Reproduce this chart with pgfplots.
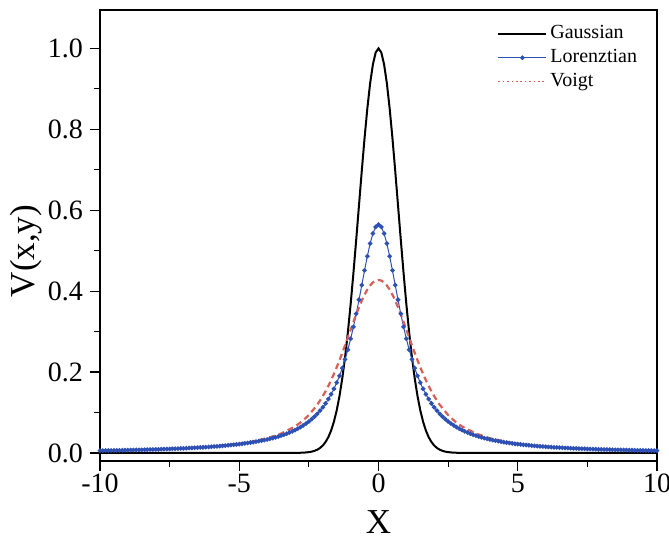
\documentclass[border=0pt]{standalone}
\usepackage{fontspec}
\setmainfont{Liberation Serif}
\usepackage{pgfplots}
\pgfplotsset{compat=1.18}
\definecolor{lblue}{RGB}{45,80,180}
\definecolor{vred}{RGB}{215,95,85}
\begin{document}
\begin{tikzpicture}
\useasboundingbox (-50pt,-42.5pt) rectangle (284.5pt,230.5pt);
\begin{axis}[
  scale only axis, width=278.5pt, height=225.5pt,
  xmin=-10, xmax=10, ymin=-0.02, ymax=1.095,
  xtick={-10,-5,0,5,10}, minor xtick={-7.5,-2.5,2.5,7.5},
  ytick={0,0.2,0.4,0.6,0.8,1.0}, minor ytick={0.1,0.3,0.5,0.7,0.9},
  tick align=outside, tick pos=left,
  major tick length=5pt, minor tick length=3pt,
  axis line style={line width=0.6pt},
  every tick/.style={line width=0.6pt, black},
  /pgf/number format/assume math mode=true,
  tick label style={font=\fontsize{14}{17}\selectfont},
  xticklabel style={yshift=2pt},
  yticklabel style={/pgf/number format/.cd, fixed, fixed zerofill, precision=1},
  xlabel={X}, ylabel={V(x,y)},
  label style={font=\fontsize{17.5}{20}\selectfont},
  xlabel style={at={(axis description cs:0.5,-0.1353)}, anchor=center},
  ylabel style={at={(axis description cs:-0.1329,0.4656)}, anchor=center},
  legend style={draw=none, fill=none, font=\fontsize{10}{12}\selectfont,
    at={(axis description cs:0.7127,0.975)}, anchor=north west,
    row sep=0pt, inner sep=0pt, cells={anchor=west},
    nodes={text height=7pt, text depth=2pt, inner sep=1.5pt}},
  legend image code/.code={\draw[mark repeat=2,mark phase=2,#1] plot coordinates {(0pt,0pt) (12pt,0pt) (24pt,0pt)};},
]
% Gaussian
\addplot[black, line width=1pt, mark=none] coordinates {
(-10,0) (-3.0,0.00012) (-2.9,0.00022) (-2.8,0.00039) (-2.7,0.00068) (-2.6,0.00116) (-2.5,0.00193) (-2.4,0.00315) (-2.3,0.00504) (-2.2,0.00791) (-2.1,0.01216)
(-2.0,0.01832) (-1.9,0.02705) (-1.8,0.03916) (-1.7,0.05558) (-1.6,0.07730) (-1.5,0.10540) (-1.4,0.14086) (-1.3,0.18452) (-1.2,0.23693) (-1.1,0.29820)
(-1.0,0.36788) (-0.9,0.44486) (-0.8,0.52729) (-0.7,0.61263) (-0.6,0.69768) (-0.5,0.77880) (-0.4,0.85214) (-0.3,0.91393) (-0.2,0.96079) (-0.1,0.99005)
(0,1.0)
(0.1,0.99005) (0.2,0.96079) (0.3,0.91393) (0.4,0.85214) (0.5,0.77880) (0.6,0.69768) (0.7,0.61263) (0.8,0.52729) (0.9,0.44486) (1.0,0.36788)
(1.1,0.29820) (1.2,0.23693) (1.3,0.18452) (1.4,0.14086) (1.5,0.10540) (1.6,0.07730) (1.7,0.05558) (1.8,0.03916) (1.9,0.02705) (2.0,0.01832)
(2.1,0.01216) (2.2,0.00791) (2.3,0.00504) (2.4,0.00315) (2.5,0.00193) (2.6,0.00116) (2.7,0.00068) (2.8,0.00039) (2.9,0.00022) (3.0,0.00012) (10,0)
};
\addlegendentry{Gaussian}
% Lorentzian
\addplot[lblue, line width=0.5pt, mark=*, mark size=0.9pt, mark options={solid, fill=lblue, draw=lblue}] coordinates {
(-10.0,0.00559) (-9.9,0.00570) (-9.8,0.00581) (-9.7,0.00593) (-9.6,0.00606) (-9.5,0.00618) (-9.4,0.00631) (-9.3,0.00645) (-9.2,0.00659) (-9.1,0.00673)
(-9.0,0.00688) (-8.9,0.00703) (-8.8,0.00719) (-8.7,0.00736) (-8.6,0.00753) (-8.5,0.00770) (-8.4,0.00788) (-8.3,0.00807) (-8.2,0.00827) (-8.1,0.00847)
(-8.0,0.00868) (-7.9,0.00890) (-7.8,0.00912) (-7.7,0.00936) (-7.6,0.00960) (-7.5,0.00985) (-7.4,0.01012) (-7.3,0.01039) (-7.2,0.01068) (-7.1,0.01097)
(-7.0,0.01128) (-6.9,0.01161) (-6.8,0.01194) (-6.7,0.01229) (-6.6,0.01266) (-6.5,0.01304) (-6.4,0.01345) (-6.3,0.01387) (-6.2,0.01431) (-6.1,0.01477)
(-6.0,0.01525) (-5.9,0.01576) (-5.8,0.01629) (-5.7,0.01685) (-5.6,0.01743) (-5.5,0.01805) (-5.4,0.01871) (-5.3,0.01939) (-5.2,0.02012) (-5.1,0.02089)
(-5.0,0.02170) (-4.9,0.02256) (-4.8,0.02347) (-4.7,0.02443) (-4.6,0.02546) (-4.5,0.02655) (-4.4,0.02771) (-4.3,0.02895) (-4.2,0.03027) (-4.1,0.03168)
(-4.0,0.03319) (-3.9,0.03481) (-3.8,0.03654) (-3.7,0.03841) (-3.6,0.04041) (-3.5,0.04258) (-3.4,0.04492) (-3.3,0.04745) (-3.2,0.05019) (-3.1,0.05318)
(-3.0,0.05642) (-2.9,0.05996) (-2.8,0.06382) (-2.7,0.06806) (-2.6,0.07271) (-2.5,0.07782) (-2.4,0.08346) (-2.3,0.08970) (-2.2,0.09661) (-2.1,0.10429)
(-2.0,0.11284) (-1.9,0.12238) (-1.8,0.13306) (-1.7,0.14504) (-1.6,0.15848) (-1.5,0.17360) (-1.4,0.19061) (-1.3,0.20974) (-1.2,0.23122) (-1.1,0.25529)
(-1.0,0.28209) (-0.9,0.31171) (-0.8,0.34402) (-0.7,0.37865) (-0.6,0.41485) (-0.5,0.45135) (-0.4,0.48637) (-0.3,0.51761) (-0.2,0.54249) (-0.1,0.55860)
(0,0.56419)
(0.1,0.55860) (0.2,0.54249) (0.3,0.51761) (0.4,0.48637) (0.5,0.45135) (0.6,0.41485) (0.7,0.37865) (0.8,0.34402) (0.9,0.31171) (1.0,0.28209)
(1.1,0.25529) (1.2,0.23122) (1.3,0.20974) (1.4,0.19061) (1.5,0.17360) (1.6,0.15848) (1.7,0.14504) (1.8,0.13306) (1.9,0.12238) (2.0,0.11284)
(2.1,0.10429) (2.2,0.09661) (2.3,0.08970) (2.4,0.08346) (2.5,0.07782) (2.6,0.07271) (2.7,0.06806) (2.8,0.06382) (2.9,0.05996) (3.0,0.05642)
(3.1,0.05318) (3.2,0.05019) (3.3,0.04745) (3.4,0.04492) (3.5,0.04258) (3.6,0.04041) (3.7,0.03841) (3.8,0.03654) (3.9,0.03481) (4.0,0.03319)
(4.1,0.03168) (4.2,0.03027) (4.3,0.02895) (4.4,0.02771) (4.5,0.02655) (4.6,0.02546) (4.7,0.02443) (4.8,0.02347) (4.9,0.02256) (5.0,0.02170)
(5.1,0.02089) (5.2,0.02012) (5.3,0.01939) (5.4,0.01871) (5.5,0.01805) (5.6,0.01743) (5.7,0.01685) (5.8,0.01629) (5.9,0.01576) (6.0,0.01525)
(6.1,0.01477) (6.2,0.01431) (6.3,0.01387) (6.4,0.01345) (6.5,0.01304) (6.6,0.01266) (6.7,0.01229) (6.8,0.01194) (6.9,0.01161) (7.0,0.01128)
(7.1,0.01097) (7.2,0.01068) (7.3,0.01039) (7.4,0.01012) (7.5,0.00985) (7.6,0.00960) (7.7,0.00936) (7.8,0.00912) (7.9,0.00890) (8.0,0.00868)
(8.1,0.00847) (8.2,0.00827) (8.3,0.00807) (8.4,0.00788) (8.5,0.00770) (8.6,0.00753) (8.7,0.00736) (8.8,0.00719) (8.9,0.00703) (9.0,0.00688)
(9.1,0.00673) (9.2,0.00659) (9.3,0.00645) (9.4,0.00631) (9.5,0.00618) (9.6,0.00606) (9.7,0.00593) (9.8,0.00581) (9.9,0.00570) (10.0,0.00559)
};
\addlegendentry{Lorenztian}
% Voigt
\addplot[vred, line width=1.1pt, dash pattern=on 3pt off 2pt, mark=none,
  legend image post style={line width=0.5pt, dash pattern=on 0.8pt off 1.4pt}] coordinates {
(-10,0.00567) (-9,0.00701) (-8,0.00888) (-7,0.01163) (-6,0.01589) (-5,0.02300) (-4.5,0.02852) (-4,0.03628) (-3.5,0.04770) (-3,0.06531)
(-2.75,0.07773) (-2.5,0.09360) (-2.2,0.11894) (-2.0,0.14024) (-1.9,0.15242) (-1.8,0.16567) (-1.7,0.18000) (-1.6,0.19541) (-1.5,0.21184) (-1.4,0.22921)
(-1.3,0.24738) (-1.2,0.26619) (-1.1,0.28540) (-1.0,0.30474) (-0.9,0.32390) (-0.8,0.34251) (-0.7,0.36020) (-0.6,0.37657) (-0.5,0.39123) (-0.4,0.40382)
(-0.3,0.41399) (-0.2,0.42147) (-0.1,0.42604) (0,0.42758) (0.1,0.42604) (0.2,0.42147) (0.3,0.41399) (0.4,0.40382) (0.5,0.39123) (0.6,0.37657)
(0.7,0.36020) (0.8,0.34251) (0.9,0.32390) (1.0,0.30474) (1.1,0.28540) (1.2,0.26619) (1.3,0.24738) (1.4,0.22921) (1.5,0.21184) (1.6,0.19541)
(1.7,0.18000) (1.8,0.16567) (1.9,0.15242) (2.0,0.14024) (2.2,0.11894) (2.5,0.09360) (2.75,0.07773) (3,0.06531) (3.5,0.04770) (4,0.03628)
(4.5,0.02852) (5,0.02300) (6,0.01589) (7,0.01163) (8,0.00888) (9,0.00701) (10,0.00567)
};
\addlegendentry{Voigt}
\end{axis}
\end{tikzpicture}
\end{document}
